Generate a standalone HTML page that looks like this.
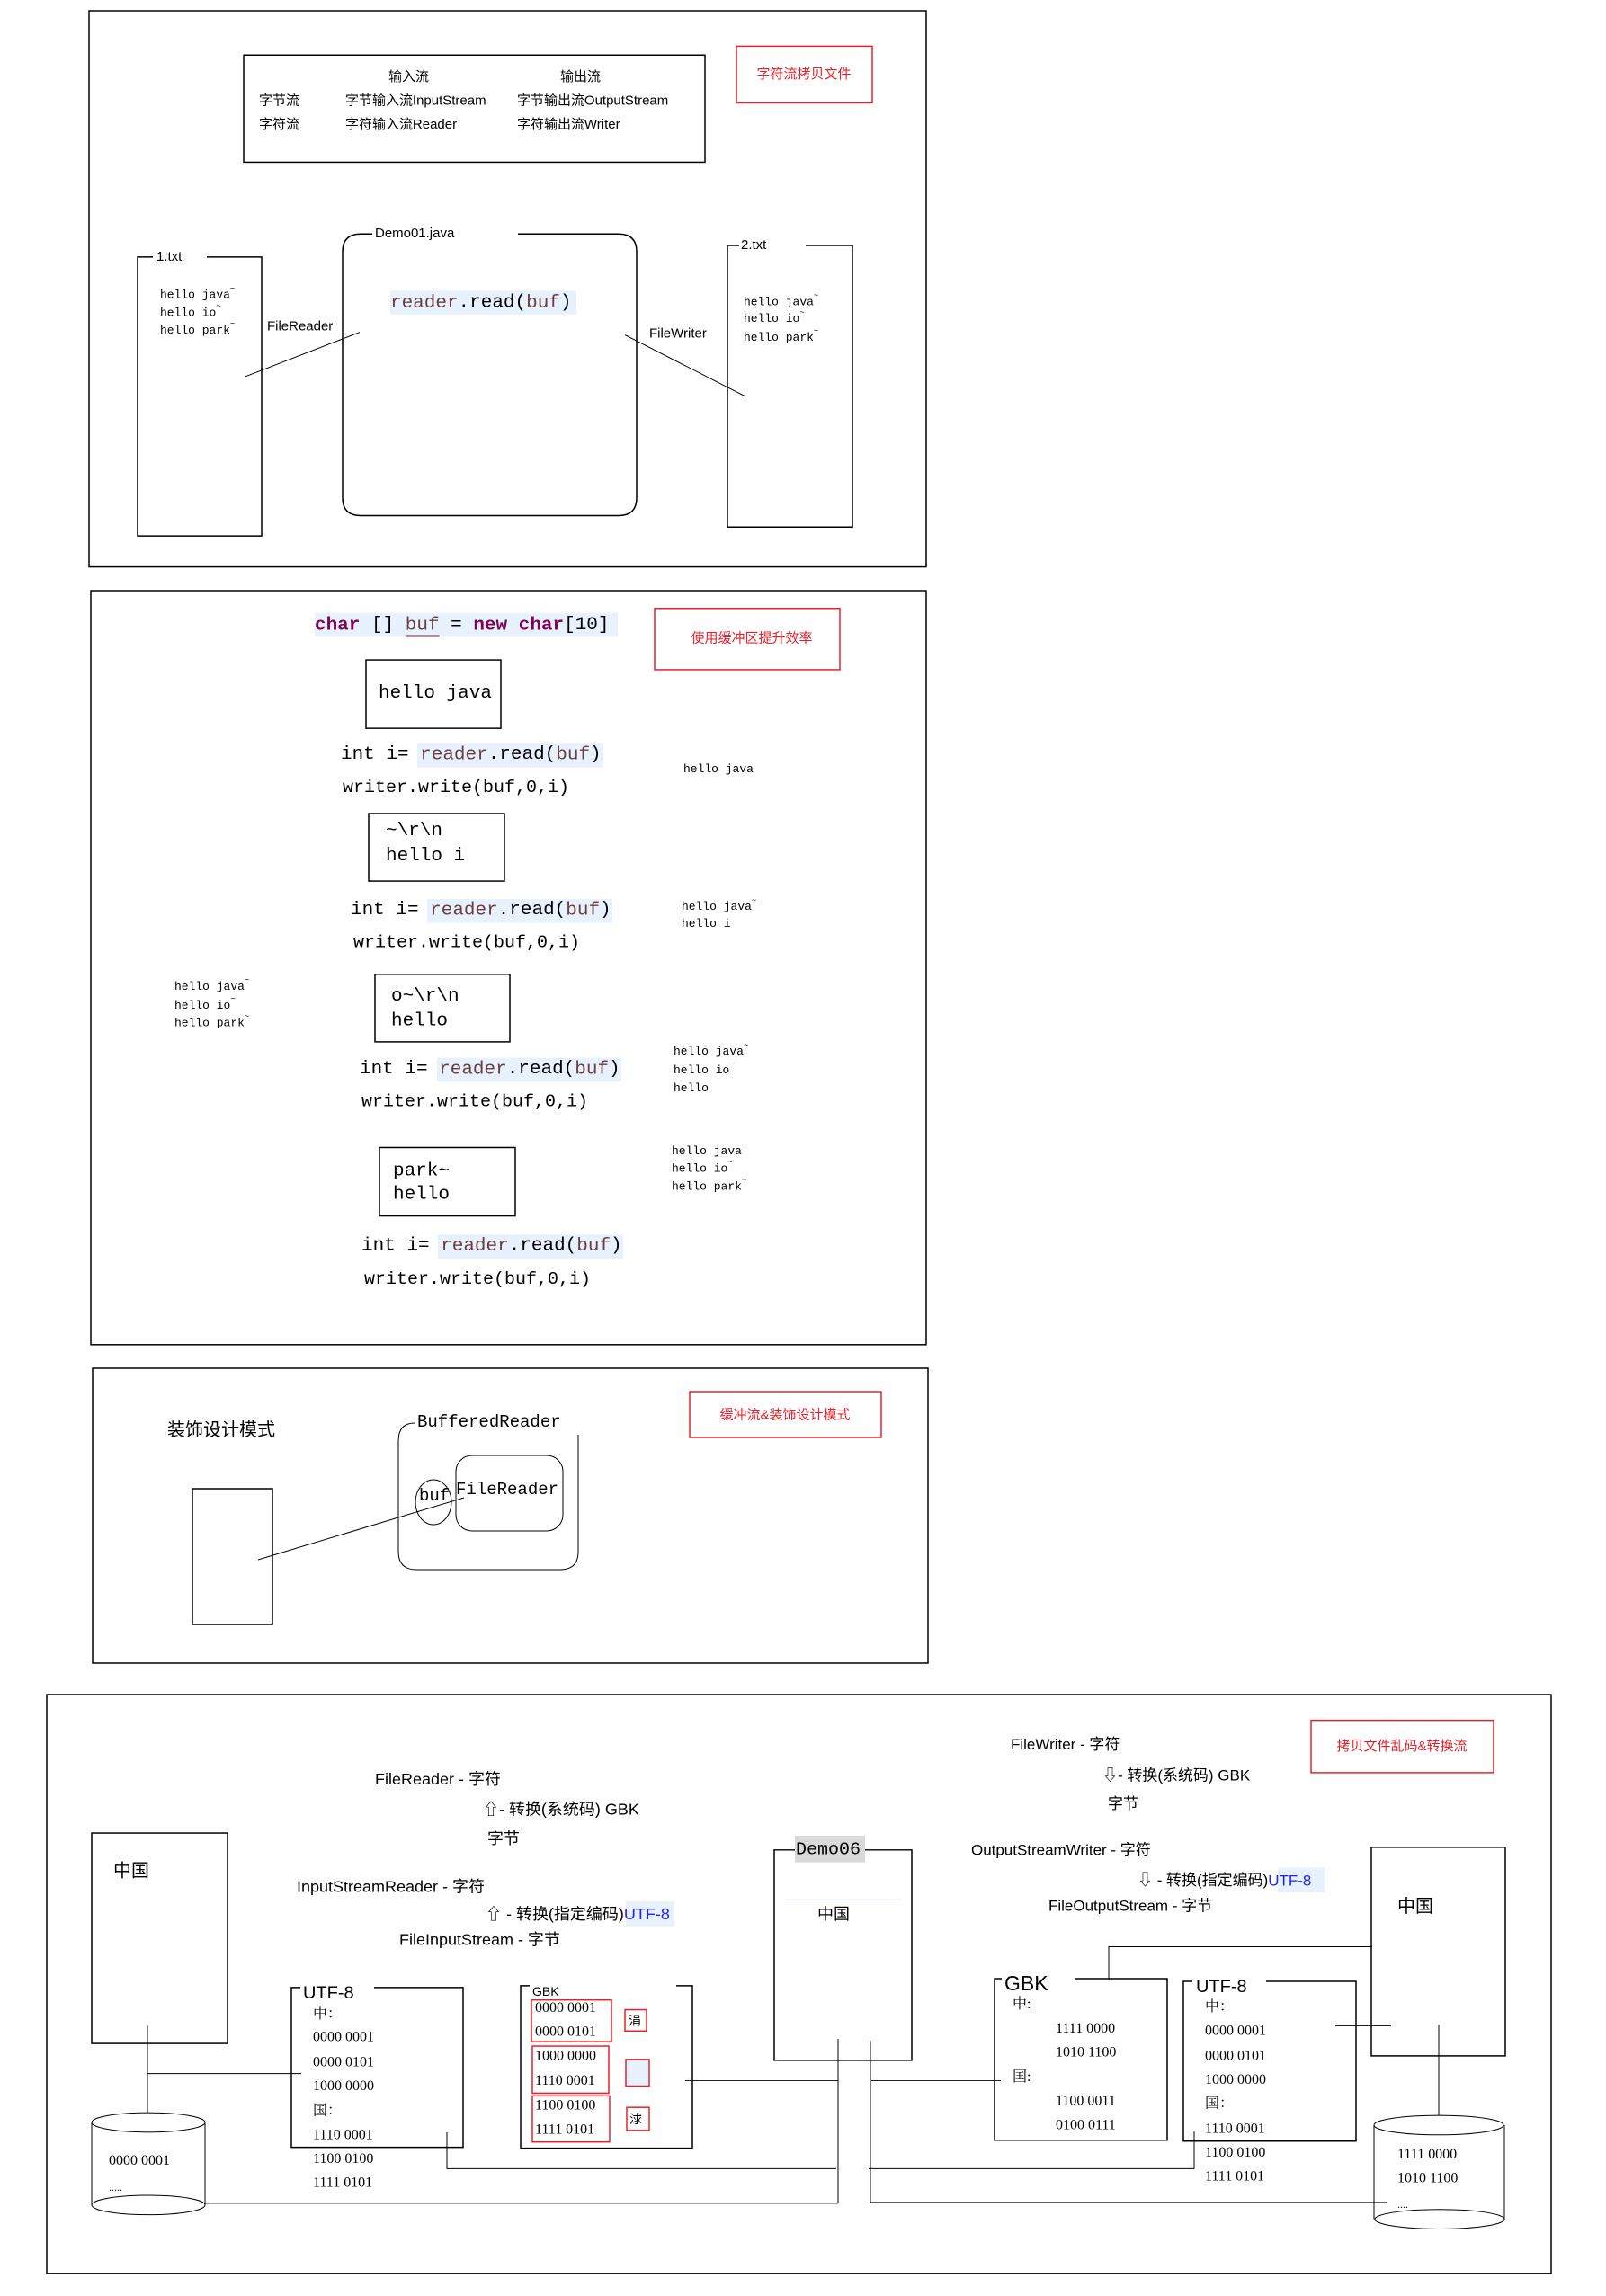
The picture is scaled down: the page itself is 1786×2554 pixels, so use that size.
<!DOCTYPE html>
<html><head><meta charset="utf-8"><style>
html,body{margin:0;padding:0;background:#fff;}
svg{display:block;}
.s{font-family:"Liberation Sans","Noto Sans CJK SC",sans-serif;}
.m{font-family:"Liberation Mono","Noto Sans CJK SC",monospace;}
.r{font-family:"Liberation Serif","Noto Serif CJK SC",serif;}
</style></head><body>
<svg width="1786" height="2554" viewBox="0 0 1786 2554" xmlns="http://www.w3.org/2000/svg" fill="none" stroke="#000" stroke-width="1.5">
<!-- SECTION 1 -->
<g transform="translate(0,12) scale(1,0.985) translate(0,-12)">
<rect x="99" y="12" width="931" height="628"/>
<rect x="271" y="62" width="513" height="121"/>
<g class="s" fill="#000" stroke="none" font-size="15" dominant-baseline="central">
<text x="432" y="87">输入流</text><text x="623" y="87">输出流</text>
<text x="288" y="114">字节流</text><text x="384" y="114">字节输入流InputStream</text><text x="575" y="114">字节输出流OutputStream</text>
<text x="288" y="141">字符流</text><text x="384" y="141">字符输入流Reader</text><text x="575" y="141">字符输出流Writer</text>
</g>
<rect x="819" y="52" width="151" height="64" stroke="#e8202a"/>
<text class="s" x="894" y="84" fill="#e8202a" stroke="none" font-size="15" text-anchor="middle" dominant-baseline="central">字符流拷贝文件</text>
<path d="M230 290 H291 V605 H153 V290 H170"/>
<text class="s" x="174" y="290" fill="#000" stroke="none" font-size="15" dominant-baseline="central">1.txt</text>
<g class="m" fill="#000" stroke="none" font-size="13" dominant-baseline="central">
<text x="178" y="333">hello java<tspan dy="-7" font-size="9">~</tspan></text>
<text x="178" y="353">hello io<tspan dy="-7" font-size="9">~</tspan></text>
<text x="178" y="373">hello park<tspan dy="-7" font-size="9">~</tspan></text>
</g>
<text class="s" x="297" y="369" fill="#000" stroke="none" font-size="15" dominant-baseline="central">FileReader</text>
<line x1="273" y1="425" x2="400" y2="375" stroke-width="1"/>
<path d="M576 264 H688 Q708 264 708 284 V562 Q708 582 688 582 H401 Q381 582 381 562 V284 Q381 264 401 264 H414"/>
<text class="s" x="417" y="264" fill="#000" stroke="none" font-size="15" dominant-baseline="central">Demo01.java</text>
<rect x="434" y="328" width="207" height="27" fill="#e8f2fe" stroke="none"/>
<text class="m" x="434" y="342" fill="#000" stroke="none" font-size="21" dominant-baseline="central"><tspan fill="#6a3e3e">reader</tspan>.read(<tspan fill="#6a3e3e">buf</tspan>)</text>
<text class="s" x="722" y="377" fill="#000" stroke="none" font-size="15" dominant-baseline="central">FileWriter</text>
<line x1="695" y1="378" x2="828" y2="447" stroke-width="1"/>
<path d="M896 277 H948 V595 H809 V277 H822"/>
<text class="s" x="824" y="277" fill="#000" stroke="none" font-size="15" dominant-baseline="central">2.txt</text>
<g class="m" fill="#000" stroke="none" font-size="13" dominant-baseline="central">
<text x="827" y="341">hello java<tspan dy="-7" font-size="9">~</tspan></text>
<text x="827" y="360">hello io<tspan dy="-7" font-size="9">~</tspan></text>
<text x="827" y="381">hello park<tspan dy="-7" font-size="9">~</tspan></text>
</g>
</g>

<!-- SECTION 2 -->
<g transform="translate(0,657) scale(1,0.988) translate(0,-657)">
<rect x="101" y="657" width="929" height="849"/>
<rect x="350" y="682" width="337" height="27" fill="#e8f2fe" stroke="none"/>
<text class="m" x="350" y="696" fill="#000" stroke="none" font-size="21" dominant-baseline="central"><tspan fill="#7f0055" font-weight="bold">char</tspan> [] <tspan fill="#6a3e3e" text-decoration="underline">buf</tspan> = <tspan fill="#7f0055" font-weight="bold">new</tspan> <tspan fill="#7f0055" font-weight="bold">char</tspan>[10]</text>
<rect x="728" y="677" width="206" height="69" stroke="#e8202a"/>
<text class="s" x="836" y="711" fill="#e8202a" stroke="none" font-size="15" text-anchor="middle" dominant-baseline="central">使用缓冲区提升效率</text>
<rect x="407" y="735" width="150" height="77"/>
<rect x="410" y="908" width="151" height="76"/>
<rect x="417" y="1089" width="150" height="76"/>
<rect x="422" y="1284" width="151" height="77"/>
<g class="m" fill="#000" stroke="none" font-size="21" dominant-baseline="central">
<text x="421" y="773">hello java</text>
<text x="429" y="928">~\r\n</text><text x="429" y="956">hello i</text>
<text x="435" y="1114">o~\r\n</text><text x="435" y="1142">hello</text>
<text x="437" y="1311">park~</text><text x="437" y="1337">hello</text>
</g>
<g fill="#e8f2fe" stroke="none">
<rect x="464" y="829" width="207" height="27"/>
<rect x="475" y="1004" width="206" height="27"/>
<rect x="486" y="1183" width="205" height="27"/>
<rect x="487" y="1382" width="206" height="27"/>
</g>
<g class="m" fill="#000" stroke="none" font-size="21" dominant-baseline="central">
<text x="379" y="842">int i= <tspan fill="#6a3e3e">reader</tspan>.read(<tspan fill="#6a3e3e">buf</tspan>)</text>
<text x="390" y="1017">int i= <tspan fill="#6a3e3e">reader</tspan>.read(<tspan fill="#6a3e3e">buf</tspan>)</text>
<text x="400" y="1196">int i= <tspan fill="#6a3e3e">reader</tspan>.read(<tspan fill="#6a3e3e">buf</tspan>)</text>
<text x="402" y="1395">int i= <tspan fill="#6a3e3e">reader</tspan>.read(<tspan fill="#6a3e3e">buf</tspan>)</text>
</g>
<g class="m" fill="#000" stroke="none" font-size="20" dominant-baseline="central">
<text x="381" y="878">writer.write(buf,0,i)</text>
<text x="393" y="1053">writer.write(buf,0,i)</text>
<text x="402" y="1232">writer.write(buf,0,i)</text>
<text x="405" y="1432">writer.write(buf,0,i)</text>
</g>
<g class="m" fill="#000" stroke="none" font-size="13" dominant-baseline="central">
<text x="760" y="858">hello java</text>
<text x="758" y="1013">hello java<tspan dy="-7" font-size="9">~</tspan></text>
<text x="758" y="1032">hello i</text>
<text x="749" y="1176">hello java<tspan dy="-7" font-size="9">~</tspan></text>
<text x="749" y="1197">hello io<tspan dy="-7" font-size="9">~</tspan></text>
<text x="749" y="1217">hello</text>
<text x="747" y="1288">hello java<tspan dy="-7" font-size="9">~</tspan></text>
<text x="747" y="1308">hello io<tspan dy="-7" font-size="9">~</tspan></text>
<text x="747" y="1328">hello park<tspan dy="-7" font-size="9">~</tspan></text>
<text x="194" y="1103">hello java<tspan dy="-7" font-size="9">~</tspan></text>
<text x="194" y="1124">hello io<tspan dy="-7" font-size="9">~</tspan></text>
<text x="194" y="1144">hello park<tspan dy="-7" font-size="9">~</tspan></text>
</g>
</g>

<!-- SECTION 3 -->
<rect x="103" y="1522" width="929" height="328"/>
<text class="s" x="186" y="1591" fill="#000" stroke="none" font-size="20" dominant-baseline="central">装饰设计模式</text>
<rect x="214" y="1656" width="89" height="151"/>
<rect x="767" y="1548" width="213" height="51" stroke="#e8202a"/>
<text class="s" x="873" y="1574" fill="#e8202a" stroke="none" font-size="15" text-anchor="middle" dominant-baseline="central">缓冲流&amp;装饰设计模式</text>
<path d="M643 1596 V1726 Q643 1746 623 1746 H463 Q443 1746 443 1726 V1603 Q443 1583 461 1583" stroke-width="1"/>
<text class="m" x="464" y="1582" fill="#000" stroke="none" font-size="19" dominant-baseline="central">BufferedReader</text>
<rect x="507" y="1619" width="119" height="84" rx="18" stroke-width="1"/>
<text class="m" x="507" y="1657" fill="#000" stroke="none" font-size="19" dominant-baseline="central">FileReader</text>
<ellipse cx="482" cy="1671" rx="20" ry="25" stroke-width="1"/>
<text class="m" x="466" y="1664" fill="#000" stroke="none" font-size="19" dominant-baseline="central">buf</text>
<line x1="287" y1="1735" x2="516" y2="1666" stroke-width="1"/>

<!-- SECTION 4 -->
<g transform="translate(0,1885) scale(1,0.9875) translate(0,-1885)">
<rect x="52" y="1885" width="1673" height="652"/>
<g class="s" fill="#000" stroke="none" font-size="18" dominant-baseline="central">
<text x="417" y="1980">FileReader - 字符</text>
<text x="537" y="2014">⇧- 转换(系统码) GBK</text>
<text x="542" y="2047">字节</text>
<text x="330" y="2101">InputStreamReader - 字符</text>
<text x="444" y="2161">FileInputStream - 字节</text>
</g>
<rect x="696" y="2118" width="54" height="28" fill="#e8f2fe" stroke="none"/>
<text class="s" x="540" y="2132" fill="#000" stroke="none" font-size="18" dominant-baseline="central">⇧ - 转换(指定编码)<tspan fill="#2020ff">UTF-8</tspan></text>
<rect x="102" y="2041" width="151" height="237"/>
<text class="s" x="126" y="2084" fill="#000" stroke="none" font-size="20" dominant-baseline="central">中国</text>
<path d="M164 2258 V2363 M164 2312 H335" stroke-width="1"/>
<path d="M102 2367 V2460 M228 2367 V2460" stroke-width="1"/>
<ellipse cx="165" cy="2367" rx="63" ry="11" fill="#fff" stroke-width="1"/>
<ellipse cx="165" cy="2460" rx="63" ry="11" stroke-width="1"/>
<text class="r" x="121" y="2410" fill="#000" stroke="none" font-size="16" dominant-baseline="central">0000 0001</text>
<text class="r" x="121" y="2440" fill="#000" stroke="none" font-size="12" dominant-baseline="central">.....</text>
<path d="M416 2215 H515 V2395 H324 V2215 H334"/>
<text class="s" x="337" y="2221" fill="#000" stroke="none" font-size="20" dominant-baseline="central">UTF-8</text>
<g class="r" fill="#000" stroke="none" font-size="16" dominant-baseline="central">
<text x="348" y="2245">中：</text><text x="348" y="2271">0000 0001</text><text x="348" y="2299">0000 0101</text>
<text x="348" y="2326">1000 0000</text><text x="348" y="2354">国：</text><text x="348" y="2381">1110 0001</text>
<text x="348" y="2408">1100 0100</text><text x="348" y="2435">1111 0101</text>
</g>
<path d="M752 2213 H770 V2396 H579 V2213 H589"/>
<text class="s" x="592" y="2219" fill="#000" stroke="none" font-size="14" dominant-baseline="central">GBK</text>
<g stroke="#e8202a">
<rect x="591" y="2229" width="89" height="47"/><rect x="592" y="2281" width="85" height="53"/><rect x="592" y="2337" width="86" height="52"/>
<rect x="695" y="2240" width="24" height="24"/><rect x="696" y="2296" width="26" height="30" fill="#e8f2fe"/><rect x="697" y="2350" width="25" height="26"/>
</g>
<g class="r" fill="#000" stroke="none" font-size="16" dominant-baseline="central">
<text x="595" y="2238">0000 0001</text><text x="595" y="2265">0000 0101</text>
<text x="595" y="2292">1000 0000</text><text x="595" y="2320">1110 0001</text>
<text x="595" y="2348">1100 0100</text><text x="595" y="2375">1111 0101</text>
</g>
<g class="s" fill="#000" stroke="none" font-size="14" dominant-baseline="central">
<text x="699" y="2252">涓</text><text x="700" y="2363">浗</text>
</g>
<path d="M762 2320 H932 M497 2378 V2419 H930 M228 2458 H932 M932 2273 V2458 M968 2275 V2457 H1543 M969 2320 H1113 M966 2419 H1328 V2377 M1233 2207 V2169 H1526 M1485 2258 H1547 M1600 2257 V2359" stroke-width="1"/>
<path d="M962 2060 H1014 V2297 H861 V2060 H884"/>
<rect x="884" y="2044" width="78" height="30" fill="#d9d9d9" stroke="none"/>
<text class="m" x="885" y="2059" fill="#000" stroke="none" font-size="20" dominant-baseline="central">Demo06</text>
<line x1="873" y1="2116" x2="1003" y2="2116" stroke="#dbe8f6" stroke-width="1"/>
<text class="s" x="909" y="2132" fill="#000" stroke="none" font-size="18" dominant-baseline="central">中国</text>
<g class="s" fill="#000" stroke="none" font-size="17" dominant-baseline="central">
<text x="1124" y="1941">FileWriter  - 字符</text>
<text x="1226" y="1976">⇩- 转换(系统码) GBK</text>
<text x="1232" y="2008">字节</text>
<text x="1080" y="2060">OutputStreamWriter - 字符</text>
<text x="1166" y="2123">FileOutputStream - 字节</text>
</g>
<rect x="1421" y="2080" width="53" height="28" fill="#e8f2fe" stroke="none"/>
<text class="s" x="1265" y="2094" fill="#000" stroke="none" font-size="17" dominant-baseline="central">⇩ - 转换(指定编码)<tspan fill="#2020ff">UTF-8</tspan></text>
<rect x="1458" y="1914" width="203" height="59" stroke="#e8202a"/>
<text class="s" x="1559" y="1944" fill="#e8202a" stroke="none" font-size="15" text-anchor="middle" dominant-baseline="central">拷贝文件乱码&amp;转换流</text>
<rect x="1525" y="2057" width="149" height="235"/>
<text class="s" x="1554" y="2124" fill="#000" stroke="none" font-size="20" dominant-baseline="central">中国</text>
<path d="M1196 2205 H1298 V2387 H1106 V2205 H1114"/>
<text class="s" x="1117" y="2210" fill="#000" stroke="none" font-size="23" dominant-baseline="central">GBK</text>
<g class="r" fill="#000" stroke="none" font-size="16" dominant-baseline="central">
<text x="1126" y="2234">中:</text><text x="1174" y="2261">1111 0000</text><text x="1174" y="2288">1010 1100</text>
<text x="1126" y="2316">国:</text><text x="1174" y="2343">1100 0011</text><text x="1174" y="2370">0100 0111</text>
</g>
<path d="M1408 2208 H1508 V2388 H1316 V2208 H1326"/>
<text class="s" x="1330" y="2214" fill="#000" stroke="none" font-size="20" dominant-baseline="central">UTF-8</text>
<g class="r" fill="#000" stroke="none" font-size="16" dominant-baseline="central">
<text x="1340" y="2237">中：</text><text x="1340" y="2264">0000 0001</text><text x="1340" y="2292">0000 0101</text>
<text x="1340" y="2319">1000 0000</text><text x="1340" y="2346">国：</text><text x="1340" y="2374">1110 0001</text>
<text x="1340" y="2401">1100 0100</text><text x="1340" y="2428">1111 0101</text>
</g>
<path d="M1528 2370 V2476 M1673 2370 V2476" stroke-width="1"/>
<ellipse cx="1600" cy="2370" rx="72" ry="11" fill="#fff" stroke-width="1"/>
<ellipse cx="1601" cy="2476" rx="72" ry="11" stroke-width="1"/>
<g class="r" fill="#000" stroke="none" font-size="16" dominant-baseline="central">
<text x="1554" y="2403">1111 0000</text><text x="1554" y="2430">1010 1100</text>
<text x="1554" y="2459" font-size="12">....</text>
</g>
</g>
</svg>
</body></html>
